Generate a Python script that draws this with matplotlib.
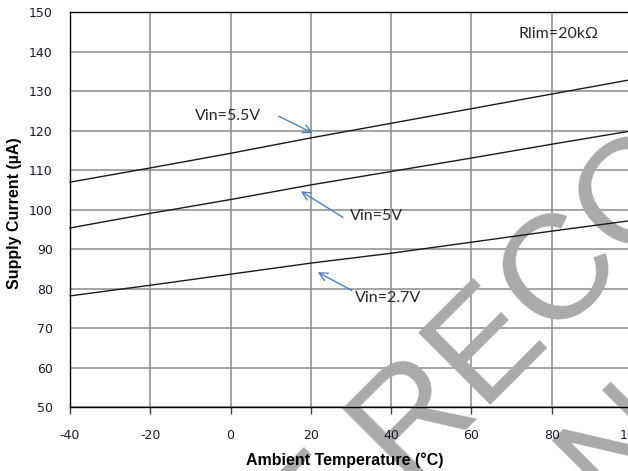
import matplotlib
matplotlib.use('Agg')
import matplotlib.pyplot as plt
import matplotlib.transforms as mtransforms

plt.rcParams['axes.unicode_minus'] = False

# ---- data ----
temps = [-40, -20, 0, 20, 40, 60, 80, 100]
i_vin_5v5 = [107.0, 110.6, 114.3, 118.2, 121.9, 125.6, 129.3, 133.0]
i_vin_5v0 = [95.4, 99.1, 102.6, 106.3, 109.7, 113.1, 116.6, 120.0]
i_vin_2v7 = [78.2, 80.9, 83.7, 86.5, 89.0, 91.8, 94.6, 97.3]

x_ticks = [-40, -20, 0, 20, 40, 60, 80, 100]
y_ticks = [50, 60, 70, 80, 90, 100, 110, 120, 130, 140, 150]

series_labels = ['Vin=5.5V', 'Vin=5V', 'Vin=2.7V']
note_text = 'Rlim=20kΩ'
x_label = 'Ambient Temperature (°C)'
y_label = 'Supply Current (µA)'
watermark_lines = ['NOT RECOMMENDED', 'FOR NEW DESIGNS']

# ---- figure ----
W, H = 628, 471
fig = plt.figure(figsize=(W / 100, H / 100), dpi=100)
ax = fig.add_axes([70 / W, 63.7 / H, 562 / W, 395 / H])
ax.set_xlim(-40, 100)
ax.set_ylim(50, 150)

grid_c = '#8c8c8c'
for x in x_ticks:
    ax.axvline(x, color=grid_c, lw=1.1, zorder=0.8)
for y in y_ticks:
    ax.axhline(y, color=grid_c, lw=1.1, zorder=0.8)

# watermark (between grid and curves), positions in pixels
wm_col = '#aaaaaa'
wm_kw = dict(transform=mtransforms.IdentityTransform(), rotation=45,
             rotation_mode='anchor', ha='left', va='baseline', fontsize=107,
             family='Liberation Sans', color=wm_col, zorder=1.0, clip_on=False)
ax.text(157.7, -267.3, watermark_lines[0], **wm_kw)
ax.text(365.0, -301.7, watermark_lines[1], **wm_kw)

line_c = '#1a1a1a'
for vals in (i_vin_5v5, i_vin_5v0, i_vin_2v7):
    ax.plot(temps, vals, color=line_c, lw=1.0, zorder=2, clip_on=False)

for side in ('left', 'bottom', 'top'):
    ax.spines[side].set_color('black')
    ax.spines[side].set_linewidth(1.0)
ax.spines['right'].set_visible(False)

ax.set_xticks(x_ticks)
ax.set_yticks(y_ticks)
ax.tick_params(axis='x', length=5, width=1, color='#404040', pad=10.5,
               labelsize=9, labelcolor='#1a1a2a')
ax.tick_params(axis='y', length=0, pad=12.5, labelsize=9, labelcolor='#1a1a2a')
for lab in ax.get_xticklabels() + ax.get_yticklabels():
    lab.set_family('DejaVu Sans')

ax.set_xlabel(x_label, fontsize=11.5, fontweight='bold', family='Liberation Sans')
ax.set_ylabel(y_label, fontsize=11.5, fontweight='bold', family='Liberation Sans')
ax.xaxis.label.set_va('center')
ax.yaxis.label.set_va('center')
ax.xaxis.set_label_coords((345 - 70) / 562, -(460 - 407.3) / 395)
ax.yaxis.set_label_coords(-(70 - 15) / 562, (407.3 - 213) / 395)

# annotations
arrow_c = '#4f81bd'
txt_c = '#262626'
aprops = dict(arrowstyle='->,head_length=0.6,head_width=0.3', color=arrow_c, lw=1.0,
              shrinkA=0, shrinkB=0)
ax.annotate('', xy=(20.5, 119.4), xytext=(12.0, 123.7), arrowprops=aprops, zorder=3)
ax.text(-8.9, 123.7, series_labels[0], ha='left', va='center', fontsize=11.5,
        family='Lato', color=txt_c, zorder=3)
ax.annotate('', xy=(17.5, 104.7), xytext=(28.0, 98.1), arrowprops=aprops, zorder=3)
ax.text(29.7, 98.4, series_labels[1], ha='left', va='center', fontsize=11.5,
        family='Lato', color=txt_c, zorder=3)
ax.annotate('', xy=(21.7, 84.2), xytext=(30.2, 79.6), arrowprops=aprops, zorder=3)
ax.text(31.0, 77.6, series_labels[2], ha='left', va='center', fontsize=11.5,
        family='Lato', color=txt_c, zorder=3)
ax.text(71.8, 144.4, note_text, ha='left', va='center', fontsize=11.5,
        family='Lato', color=txt_c, zorder=3)

fig.savefig('out.png', dpi=100)
